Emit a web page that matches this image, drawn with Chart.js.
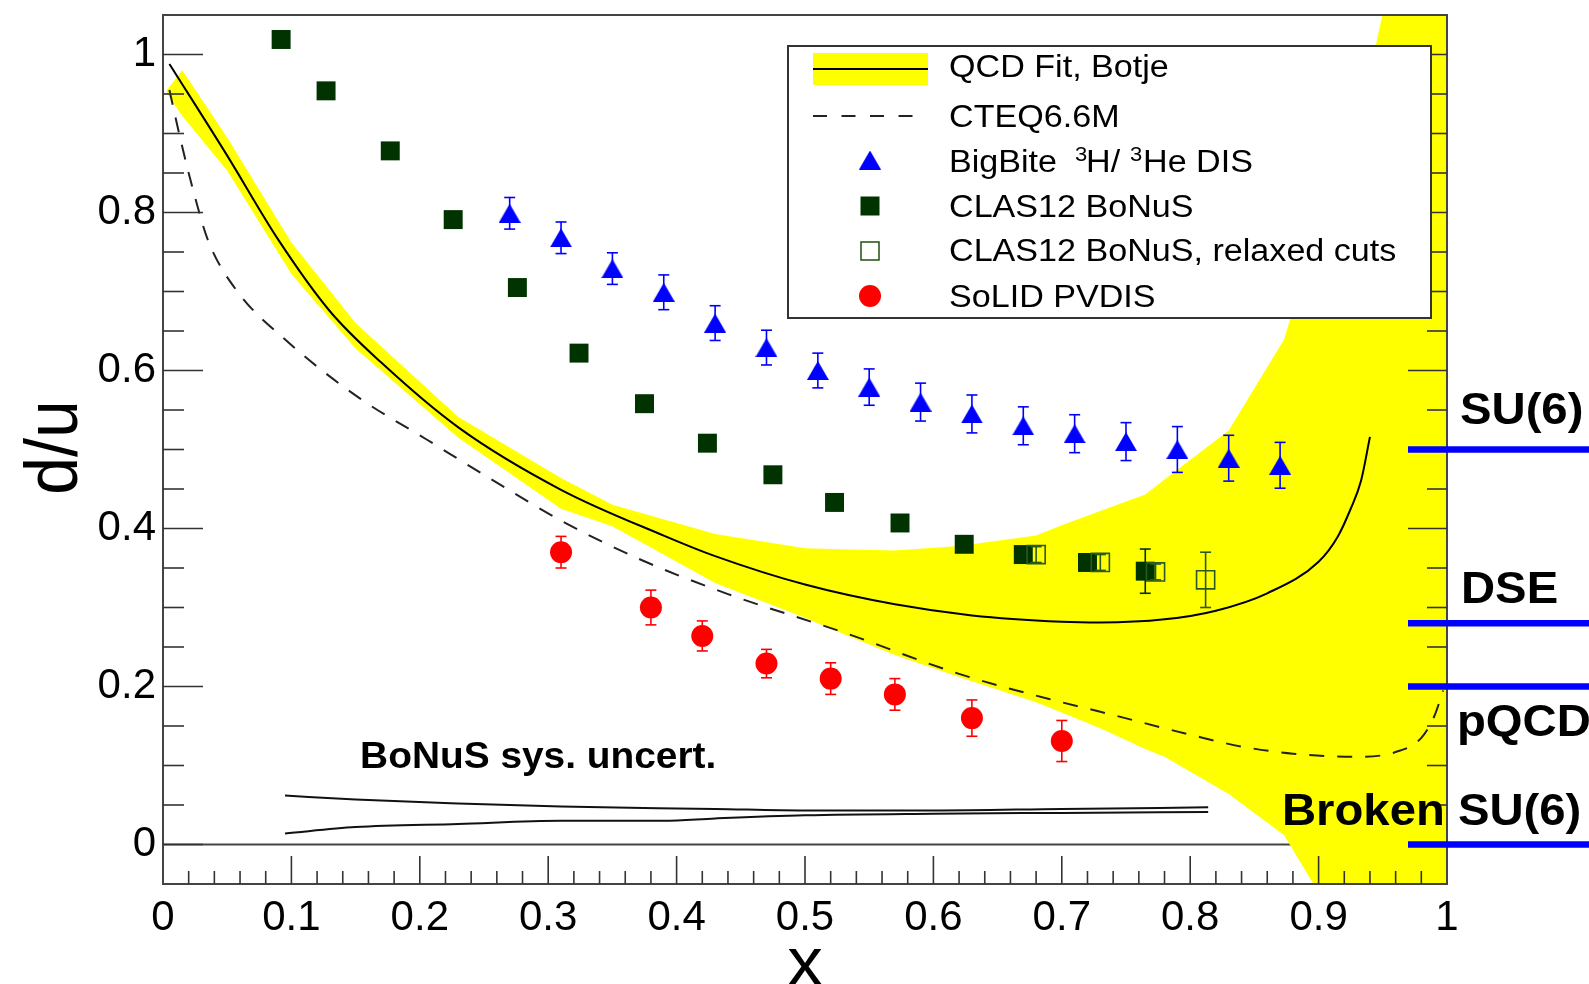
<!DOCTYPE html>
<html>
<head>
<meta charset="utf-8">
<script src="https://cdn.jsdelivr.net/npm/chart.js@4.4.1/dist/chart.umd.min.js"></script>
<style>
  html, body { margin: 0; padding: 0; background: #fff; overflow: hidden; }
  canvas { display: block; }
</style>
</head>
<body>
<canvas id="c" width="1589" height="984"></canvas>
<script>
// ---- axis ticks ----
const xTickValues = [0, 0.1, 0.2, 0.3, 0.4, 0.5, 0.6, 0.7, 0.8, 0.9, 1];
const xTickLabels = ['0', '0.1', '0.2', '0.3', '0.4', '0.5', '0.6', '0.7', '0.8', '0.9', '1'];
const yTickValues = [0, 0.2, 0.4, 0.6, 0.8, 1];
const yTickLabels = ['0', '0.2', '0.4', '0.6', '0.8', '1'];

// ---- QCD fit (Botje): central value and uncertainty band ----
const fitX = [0.005, 0.05, 0.09, 0.13, 0.17, 0.23, 0.31, 0.39, 0.43, 0.5, 0.57, 0.63, 0.7, 0.73, 0.78, 0.82, 0.86, 0.9, 0.915, 0.925, 0.933, 0.94];
const fitY = [0.988, 0.872, 0.765, 0.675, 0.610, 0.528, 0.449, 0.391, 0.365, 0.329, 0.304, 0.290, 0.282, 0.281, 0.285, 0.296, 0.318, 0.358, 0.390, 0.425, 0.460, 0.516];

const bandX    = [0.003, 0.015, 0.05, 0.1, 0.15, 0.23, 0.31, 0.35, 0.43, 0.5, 0.52, 0.57, 0.62, 0.68, 0.7, 0.73, 0.765, 0.78, 0.83, 0.873, 0.896, 0.944, 0.97, 1.0];
const bandHigh = [0.955, 0.980, 0.895, 0.762, 0.660, 0.541, 0.464, 0.430, 0.393, 0.375, 0.374, 0.372, 0.378, 0.391, 0.404, 0.422, 0.443, 0.462, 0.524, 0.639, 0.760, 1.008, 1.2, 1.2];
const bandLow  = [0.951, 0.922, 0.853, 0.722, 0.628, 0.515, 0.425, 0.403, 0.331, 0.287, 0.273, 0.240, 0.212, 0.180, 0.167, 0.147, 0.121, 0.111, 0.064, 0.012, -0.05, -0.2, -0.2, -0.2];

// ---- CTEQ6.6M ----
const cteqX = [0.005, 0.014, 0.024, 0.035, 0.057, 0.096, 0.153, 0.205, 0.26, 0.31, 0.37, 0.44, 0.53, 0.62, 0.7, 0.73, 0.8, 0.84, 0.88, 0.93, 0.96, 0.98, 0.99, 0.997];
const cteqY = [0.955, 0.890, 0.825, 0.765, 0.702, 0.638, 0.565, 0.513, 0.458, 0.410, 0.362, 0.317, 0.2685, 0.216, 0.180, 0.168, 0.139, 0.124, 0.115, 0.111, 0.117, 0.135, 0.162, 0.195];

// ---- BigBite 3H/3He DIS ----
const bigbiteX   = [0.27, 0.31, 0.35, 0.39, 0.43, 0.47, 0.51, 0.55, 0.59, 0.63, 0.67, 0.71, 0.75, 0.79, 0.83, 0.87];
const bigbiteY   = [0.799, 0.768, 0.729, 0.699, 0.660, 0.629, 0.600, 0.579, 0.560, 0.545, 0.530, 0.520, 0.510, 0.500, 0.489, 0.480];
const bigbiteErr = [0.020, 0.020, 0.020, 0.022, 0.022, 0.022, 0.022, 0.023, 0.024, 0.024, 0.024, 0.024, 0.024, 0.029, 0.029, 0.029];

// ---- CLAS12 BoNuS ----
const bonusX   = [0.092, 0.127, 0.177, 0.226, 0.276, 0.324, 0.375, 0.424, 0.475, 0.523, 0.574, 0.624, 0.670, 0.720, 0.765];
const bonusY   = [1.019, 0.954, 0.878, 0.791, 0.705, 0.622, 0.558, 0.508, 0.468, 0.433, 0.407, 0.380, 0.367, 0.357, 0.346];
const bonusErr = [0.01, 0.01, 0.01, 0.01, 0.01, 0.01, 0.01, 0.01, 0.01, 0.01, 0.01, 0.01, 0.01, 0.01, 0.028];

// ---- CLAS12 BoNuS, relaxed cuts ----
const relaxedX   = [0.680, 0.730, 0.773, 0.812];
const relaxedY   = [0.367, 0.357, 0.345, 0.335];
const relaxedErr = [0.01, 0.01, 0.01, 0.035];

// ---- SoLID PVDIS ----
const pvdisX   = [0.31, 0.38, 0.42, 0.47, 0.52, 0.57, 0.63, 0.70];
const pvdisY   = [0.370, 0.300, 0.264, 0.229, 0.210, 0.190, 0.160, 0.131];
const pvdisErr = [0.020, 0.022, 0.019, 0.018, 0.020, 0.020, 0.023, 0.026];

// ---- BoNuS systematic uncertainty envelope ----
const sysHighX = [0.095, 0.15, 0.23, 0.31, 0.43, 0.5, 0.6, 0.7, 0.814];
const sysHigh  = [0.062, 0.057, 0.052, 0.048, 0.045, 0.043, 0.043, 0.045, 0.047];
const sysLowX  = [0.095, 0.15, 0.23, 0.31, 0.39, 0.43, 0.5, 0.6, 0.7, 0.814];
const sysLow   = [0.014, 0.022, 0.026, 0.030, 0.030, 0.033, 0.037, 0.039, 0.040, 0.041];

// ---- model predictions for d/u as x -> 1 ----
const modelValues = [0.5, 0.28, 0.2, 0];
const modelLabels = ['SU(6)', 'DSE', 'pQCD', 'Broken SU(6)'];

const legendLabels = ['QCD Fit, Botje', 'CTEQ6.6M', 'BigBite', 'CLAS12 BoNuS', 'CLAS12 BoNuS, relaxed cuts', 'SoLID PVDIS'];

// ---------------------------------------------------------------
const FONT = 'Liberation Sans, Arial, Helvetica, sans-serif';
const BLUE = '#0000ff', RED = '#ff0000', DKGREEN = '#003300', OPENGREEN = '#2b5a1e', YELLOW = '#ffff00';

const pts = (xs, ys) => xs.map((x, i) => ({ x, y: ys[i] }));

function triangleMarker(color, w, h) {
  const c = document.createElement('canvas');
  c.width = w; c.height = h;
  const g = c.getContext('2d');
  g.fillStyle = color;
  g.beginPath();
  g.moveTo(w / 2, 0);
  g.lineTo(w, h);
  g.lineTo(0, h);
  g.closePath();
  g.fill();
  return c;
}
const triImg = triangleMarker(BLUE, 22, 19);

function text(ctx, str, x, y, font, sx, align) {
  ctx.save();
  ctx.font = font;
  ctx.fillStyle = '#000';
  ctx.textAlign = align || 'left';
  ctx.textBaseline = 'alphabetic';
  ctx.translate(x, y);
  ctx.scale(sx, 1);
  ctx.fillText(str, 0, 0);
  ctx.restore();
}

function line(ctx, x1, y1, x2, y2) {
  ctx.beginPath();
  ctx.moveTo(x1, y1);
  ctx.lineTo(x2, y2);
  ctx.stroke();
}

const decor = {
  id: 'decor',
  beforeDatasetsDraw(chart) {
    const { ctx, chartArea: a, scales: { y } } = chart;
    const y0 = y.getPixelForValue(0);
    ctx.save();
    ctx.strokeStyle = '#444';
    ctx.lineWidth = 2;
    line(ctx, a.left, y0, a.right, y0);
    ctx.restore();
  },
  beforeDatasetDraw(chart, args) {
    const ds = chart.data.datasets[args.index];
    if (!ds.errors) return;
    const { ctx, scales: { x, y } } = chart;
    ctx.save();
    ctx.strokeStyle = ds.errorColor;
    ctx.lineWidth = 1.6;
    ds.data.forEach((p, i) => {
      const e = ds.errors[i];
      const px = x.getPixelForValue(p.x);
      const top = y.getPixelForValue(p.y + e);
      const bot = y.getPixelForValue(p.y - e);
      line(ctx, px, top, px, bot);
      line(ctx, px - 5.5, top, px + 5.5, top);
      line(ctx, px - 5.5, bot, px + 5.5, bot);
    });
    ctx.restore();
  },
  afterDatasetsDraw(chart) {
    const { ctx, chartArea: a, scales: { x, y } } = chart;
    ctx.save();
    // frame
    ctx.strokeStyle = '#444';
    ctx.lineWidth = 2;
    ctx.strokeRect(a.left, a.top, a.right - a.left, a.bottom - a.top);
    // ticks pointing into the frame
    ctx.strokeStyle = '#333';
    ctx.lineWidth = 1.6;
    for (let i = 1; i < 50; i++) {
      const px = x.getPixelForValue(i * 0.02);
      const len = i % 5 === 0 ? 28 : 13;
      line(ctx, px, a.bottom, px, a.bottom - len);
    }
    for (let i = 0; i <= 20; i++) {
      const py = y.getPixelForValue(i * 0.05);
      const len = i % 4 === 0 ? 40 : 21;
      line(ctx, a.left, py, a.left + len, py);
      line(ctx, a.right, py, a.right - len + 1, py);
    }
    ctx.restore();

    // label of the systematic band
    text(ctx, 'BoNuS sys. uncert.', x.getPixelForValue(0.1535), y.getPixelForValue(0.0965),
      'bold 37px ' + FONT, 1.05);
  },
  afterDraw(chart) {
    const { ctx, chartArea: a, scales: { x, y } } = chart;

    // axis titles
    ctx.save();
    ctx.font = '68px ' + FONT;
    ctx.fillStyle = '#000';
    ctx.textAlign = 'center';
    ctx.translate(77, (a.top + a.bottom) / 2 - 2);
    ctx.scale(1.1, 1);
    ctx.rotate(-Math.PI / 2);
    ctx.fillText('d/u', 0, 0);
    ctx.restore();
    text(ctx, 'x', (a.left + a.right) / 2, 985, '68px ' + FONT, 1.05, 'center');

    // model predictions on the right edge
    const labelPos = [[1460, -26], [1461, -20], [1457, 49], [1282, -20]];
    ctx.save();
    ctx.strokeStyle = BLUE;
    ctx.lineWidth = 6.5;
    modelValues.forEach((v) => {
      const py = y.getPixelForValue(v);
      line(ctx, 1408, py, 1589, py);
    });
    ctx.restore();
    modelValues.forEach((v, i) => {
      const py = y.getPixelForValue(v);
      text(ctx, modelLabels[i], labelPos[i][0], py + labelPos[i][1], 'bold 45px ' + FONT, 1.05);
    });

    // legend
    const L = { x: 788, y: 46, w: 643, h: 272 };
    ctx.save();
    ctx.fillStyle = '#fff';
    ctx.fillRect(L.x, L.y, L.w, L.h);
    ctx.strokeStyle = '#333';
    ctx.lineWidth = 2;
    ctx.strokeRect(L.x, L.y, L.w, L.h);

    const mx = 870;
    const rowY = [69, 116, 160, 206, 251, 296];
    const baseY = [77.3, 127.3, 171.7, 216.7, 260.7, 306.7];
    // fit band + line
    ctx.fillStyle = YELLOW;
    ctx.fillRect(813, 53, 115, 32);
    ctx.strokeStyle = '#000';
    ctx.lineWidth = 2;
    line(ctx, 813, rowY[0], 928, rowY[0]);
    // dashed
    ctx.setLineDash([14, 14.5]);
    ctx.strokeStyle = '#222';
    line(ctx, 813, rowY[1], 913, rowY[1]);
    ctx.setLineDash([]);
    // triangle
    ctx.drawImage(triImg, mx - 11, rowY[2] - 9.5);
    // filled square
    ctx.fillStyle = DKGREEN;
    ctx.fillRect(mx - 9.5, rowY[3] - 9.5, 19, 19);
    // open square
    ctx.strokeStyle = OPENGREEN;
    ctx.lineWidth = 1.6;
    ctx.strokeRect(mx - 9, rowY[4] - 9, 18, 18);
    // circle
    ctx.fillStyle = RED;
    ctx.beginPath();
    ctx.arc(mx, rowY[5], 11, 0, Math.PI * 2);
    ctx.fill();
    ctx.restore();

    const lf = '31px ' + FONT, sf = '20px ' + FONT, tx = 949, s = 1.1;
    legendLabels.forEach((lab, i) => {
      text(ctx, lab, tx, baseY[i], lf, s);
    });
    text(ctx, '3', 1075, baseY[2] - 11, sf, s);
    text(ctx, 'H/', 1086, baseY[2], lf, s);
    text(ctx, '3', 1130, baseY[2] - 11, sf, s);
    text(ctx, 'He DIS', 1143, baseY[2], lf, s);
  }
};

const curve = (data, extra) => Object.assign({
  data, borderColor: '#000', borderWidth: 2, pointRadius: 0, fill: false,
  cubicInterpolationMode: 'monotone', order: 5
}, extra);

const markers = (data, extra) => Object.assign({
  data, showLine: false, borderWidth: 0, fill: false
}, extra);

// keep the plot frame exactly where the axes put it (no extra label overhang)
const noOverhang = ax => { ax.paddingTop = 0; ax.paddingBottom = 0; ax.paddingLeft = 0; ax.paddingRight = 0; };

new Chart(document.getElementById('c'), {
  type: 'line',
  data: {
    datasets: [
      markers(pts(bigbiteX, bigbiteY), { label: legendLabels[2], pointStyle: triImg, pointRadius: 11,
        errors: bigbiteErr, errorColor: BLUE, order: 1 }),
      markers(pts(bonusX, bonusY), { label: legendLabels[3], pointStyle: 'rect', pointRadius: 13.4,
        backgroundColor: DKGREEN, errors: bonusErr, errorColor: DKGREEN, order: 3 }),
      markers(pts(relaxedX, relaxedY), { label: legendLabels[4], pointStyle: 'rect', pointRadius: 12.8,
        backgroundColor: 'rgba(0,0,0,0)', borderColor: OPENGREEN, borderWidth: 1.6,
        errors: relaxedErr, errorColor: OPENGREEN, order: 2 }),
      markers(pts(pvdisX, pvdisY), { label: legendLabels[5], pointStyle: 'circle', pointRadius: 11,
        backgroundColor: RED, errors: pvdisErr, errorColor: RED, order: 1 }),
      curve(pts(fitX, fitY), { label: legendLabels[0] }),
      curve(pts(cteqX, cteqY), { label: legendLabels[1], borderDash: [15, 13], borderColor: '#222' }),
      curve(pts(sysHighX, sysHigh), { label: 'sys+', borderColor: '#111' }),
      curve(pts(sysLowX, sysLow), { label: 'sys-', borderColor: '#111' }),
      { label: 'band+', data: pts(bandX, bandHigh), borderWidth: 0, pointRadius: 0, tension: 0,
        backgroundColor: YELLOW, fill: '+1', order: 10 },
      { label: 'band-', data: pts(bandX, bandLow), borderWidth: 0, pointRadius: 0, tension: 0,
        backgroundColor: YELLOW, fill: false, order: 10 }
    ]
  },
  options: {
    responsive: false,
    animation: false,
    devicePixelRatio: 1,
    events: [],
    layout: { padding: { left: 0, right: 142, top: 15, bottom: 0 } },
    plugins: { legend: { display: false }, tooltip: { enabled: false } },
    scales: {
      x: {
        type: 'linear', min: 0, max: 1,
        afterBuildTicks: ax => { ax.ticks = xTickValues.map(v => ({ value: v })); },
        afterFit: ax => { ax.height = 100; noOverhang(ax); },
        grid: { display: false, drawTicks: false },
        border: { display: false },
        ticks: {
          autoSkip: false, maxRotation: 0, minRotation: 0, padding: 9, color: '#000',
          font: { family: FONT, size: 42 },
          callback: (v, i) => xTickLabels[i]
        }
      },
      y: {
        type: 'linear', min: -0.05, max: 1.05,
        afterBuildTicks: ax => { ax.ticks = yTickValues.map(v => ({ value: v })); },
        afterFit: ax => { ax.width = 163; noOverhang(ax); },
        grid: { display: false, drawTicks: false },
        border: { display: false },
        ticks: {
          autoSkip: false, padding: 7, color: '#000',
          font: { family: FONT, size: 42 },
          callback: (v, i) => yTickLabels[i]
        }
      }
    }
  },
  plugins: [decor]
});
</script>
</body>
</html>
